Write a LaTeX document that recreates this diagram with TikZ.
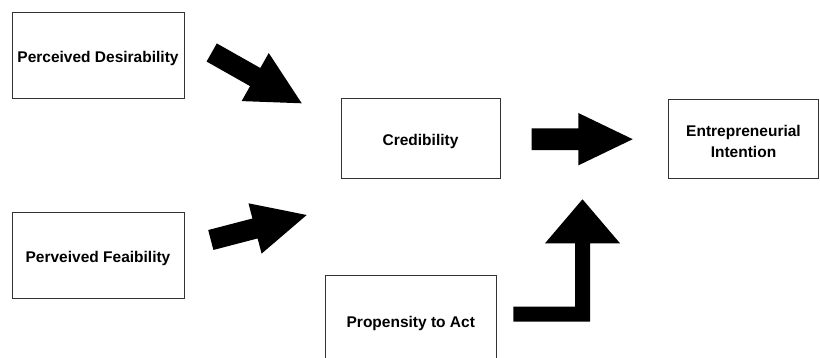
\documentclass[tikz,border=0pt]{standalone}
\usepackage{fontspec}
\setmainfont{Liberation Sans}
\usetikzlibrary{calc}
\tikzset{
  boxnode/.style={draw=black!80, line width=1pt, fill=white, inner sep=0pt, align=center},
  labeltext/.style={font=\bfseries\fontsize{15.5}{21}\selectfont, align=center, inner sep=0pt},
  blockfill/.style={fill=black}
}
\newcommand\blockarr[5]{% tail, tip, half shaft, half head, head length
  \coordinate (#1b) at ($(#2)!#5pt!(#1)$);
  \fill[blockfill] ($(#1)!#3pt!90:(#2)$) -- ($(#1b)!#3pt!-90:(#1)$) -- ($(#1b)!#4pt!-90:(#1)$) -- (#2)
    -- ($(#1b)!#4pt!90:(#1)$) -- ($(#1b)!#3pt!90:(#1)$) -- ($(#1)!#3pt!-90:(#2)$) -- cycle;
}
\begin{document}
\begin{tikzpicture}[x=1pt,y=-1pt]
\useasboundingbox (0,0) rectangle (820,358);
\clip (0,0) rectangle (820,358);
\fill[white] (0,0) rectangle (820,358);
% boxes
\node[boxnode, minimum width=172pt, minimum height=86pt] (pd) at (98,56) {};
\node[labeltext] (pdt) at (98,58.5) {Perceived Desirability};
\node[boxnode, minimum width=172pt, minimum height=86pt] (pf) at (98,256) {};
\node[labeltext] (pft) at (98,258.5) {Perveived Feaibility};
\node[boxnode, minimum width=159pt, minimum height=80pt] (cr) at (420.5,139) {};
\node[labeltext] (crt) at (420.5,141) {Credibility};
\node[boxnode, minimum width=150pt, minimum height=79pt] (ei) at (743.5,139) {};
\node[labeltext] (eit) at (743.5,141) {Entrepreneurial\\Intention};
\draw[draw=black!80, line width=1pt, fill=white] (325,276) rectangle (496.7,380);
\node[labeltext] (pa) at (410.8,323) {Propensity to Act};
% block arrows
\coordinate (a1t) at (211.7,52.5);
\coordinate (a1p) at (301.7,103.3);
\blockarr{a1t}{a1p}{10.4}{27.6}{53.4}
\coordinate (a2t) at (210.8,240);
\coordinate (a2p) at (306.7,215);
\blockarr{a2t}{a2p}{10.3}{26}{53.4}
\coordinate (a3t) at (531.7,139.2);
\coordinate (a3p) at (632.7,139.2);
\blockarr{a3t}{a3p}{10.9}{26.2}{54.4}
% elbow arrow
\coordinate (a4t) at (513.3,314.2);
\coordinate (a4p) at (582.5,199.3);
\fill[blockfill] (513.3,306.7) -- (575,306.7) -- (575,243.3) -- (545,243.3) -- (a4p)
  -- (620,243.3) -- (590,243.3) -- (590,321.7) -- (513.3,321.7) -- cycle;
\end{tikzpicture}
\end{document}
